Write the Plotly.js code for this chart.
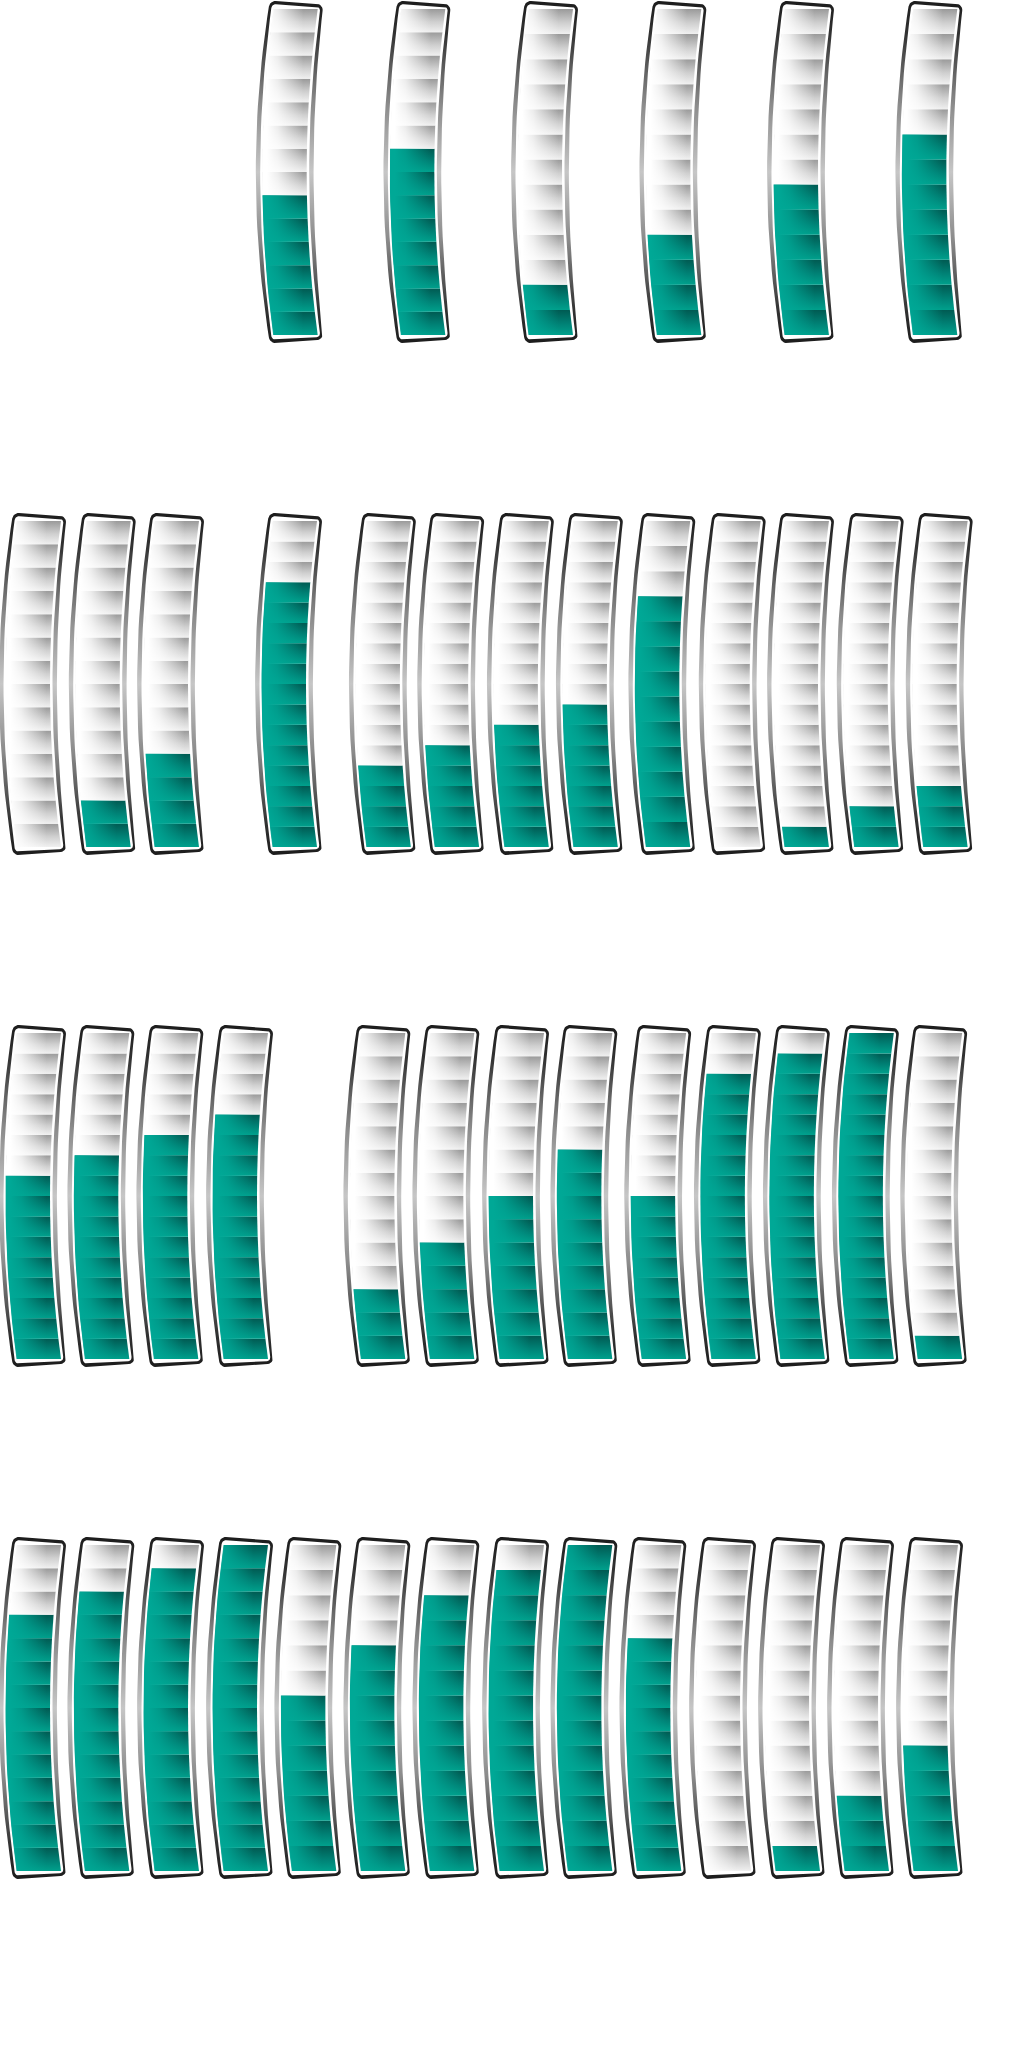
<!DOCTYPE html>
<html><head><meta charset="utf-8">
<script src="https://cdn.plot.ly/plotly-3.0.1.min.js"></script>
<style>html,body{margin:0;padding:0;background:#fff}#chart{width:1024px;height:2048px}</style>
</head><body><div id="chart"></div>
<script>
// ---- data: position slot, number of segments, filled segments ----
const row1Pos = [3.72, 5.57, 7.42, 9.28, 11.13, 12.99];
const row1Segments = [14, 14, 13, 13, 13, 13];
const row1Filled = [6, 8, 2, 4, 6, 8];

const row2Pos = [0, 1.01, 2.0, 3.71, 5.07, 6.06, 7.07, 8.07, 9.12, 10.14, 11.13, 12.14, 13.14];
const row2Segments = [14, 14, 14, 16, 16, 16, 16, 16, 13, 16, 16, 16, 16];
const row2Filled = [0, 2, 4, 13, 4, 5, 6, 7, 10, 0, 1, 2, 3];

const row3Pos = [0, 0.99, 1.99, 3.0, 4.99, 5.99, 7.0, 7.99, 9.06, 10.07, 11.07, 12.07, 13.06];
const row3Segments = [16, 16, 16, 16, 14, 14, 14, 14, 16, 16, 16, 16, 14];
const row3Filled = [9, 10, 11, 12, 3, 5, 7, 9, 8, 14, 15, 16, 1];

const row4Pos = [0, 0.99, 2.0, 3.0, 3.99, 4.99, 5.99, 7.0, 7.99, 8.99, 10.0, 11.0, 12.0, 13.0];
const row4Segments = [14, 14, 14, 14, 13, 13, 13, 13, 13, 14, 13, 13, 13, 13];
const row4Filled = [11, 12, 13, 14, 7, 9, 11, 12, 13, 10, 0, 1, 3, 5];

// ---- style ----
const EMPTY_SCALE = [[0, '#f0f0f0'], [0.45, '#cfcfcf'], [1, '#9a9a9a']];
const FILL_SCALE = [[0, '#00a08c'], [0.45, '#008175'], [1, '#005a52']];
const EMPTY_WASH = [[0, 'rgba(255,255,255,1)'], [0.3, 'rgba(255,255,255,0.8)'], [1, 'rgba(255,255,255,0)']];
const FILL_WASH = [[0, 'rgba(0,168,150,1)'], [0.3, 'rgba(0,168,150,0.8)'], [1, 'rgba(0,168,150,0)']];
const OUTLINE_SCALE = [[0,'#1c1c1c'],[0.1,'#333333'],[0.3,'#8a8a8a'],[0.5,'#c6c6c6'],[0.7,'#8a8a8a'],[0.9,'#333333'],[1,'#1c1c1c']];
const PX_X = 69, PX_Y = 326, HH = 163, BOW = 11, HW_S = 22;
const X_RANGE = [-39 / PX_X, (1024 - 39) / PX_X];
const Y_RANGE = [1 - (512 - 9) / PX_Y, 1 + 9 / PX_Y];

function bow(yl) { const t = yl / HH; return -BOW * (1 - t * t); }
function toData(cx, pts) {
  return { x: pts.map(p => cx + (p[0] + bow(p[1])) / PX_X), y: pts.map(p => 0.5 - p[1] / PX_Y) };
}
function roundedRect(hw, hh, r, widen, fanPx) {
  const pts = [];
  const arc = (cxl, cyl, a0, a1) => { for (let i = 0; i <= 6; i++) { const a = (a0 + (a1 - a0) * i / 6) * Math.PI / 180; pts.push([cxl + r * Math.cos(a), cyl + r * Math.sin(a)]); } };
  const side = (x, y0, y1) => { for (let i = 1; i < 30; i++) pts.push([x, y0 + (y1 - y0) * i / 30]); };
  arc(-hw + r, -hh + r, 180, 270);
  arc(hw - r, -hh + r, 270, 360);
  side(hw, -hh + r, hh - r);
  arc(hw - r, hh - r, 0, 90);
  arc(-hw + r, hh - r, 90, 180);
  side(-hw, hh - r, -hh + r);
  const k = fanPx / (hh * hw);
  return pts.map(([x, y]) => { const s = y / hh; return [x * (1 + widen * (1 - s * s)), y * (1 - k * x)]; });
}
function band(v0, v1, hw) {
  const pts = [], n = Math.max(2, Math.ceil((v1 - v0) * 24));
  const yl = v => -(v - 0.5) * PX_Y;
  for (let i = 0; i <= n; i++) pts.push([-hw, yl(v1 + (v0 - v1) * i / n)]);
  for (let i = 0; i <= n; i++) pts.push([hw, yl(v0 + (v1 - v0) * i / n)]);
  return pts;
}

const traces = [];
function addPoly(cx, pts, xa, ya, extra) {
  const d = toData(cx, pts);
  traces.push(Object.assign({ type: 'scatter', mode: 'lines', x: d.x, y: d.y, xaxis: xa, yaxis: ya,
    fill: 'toself', line: { width: 0 }, hoverinfo: 'skip', showlegend: false }, extra));
}

const rows = [
  { pos: row1Pos, seg: row1Segments, fill: row1Filled },
  { pos: row2Pos, seg: row2Segments, fill: row2Filled },
  { pos: row3Pos, seg: row3Segments, fill: row3Filled },
  { pos: row4Pos, seg: row4Segments, fill: row4Filled }
];

const layout = { width: 1024, height: 2048, margin: { l: 0, r: 0, t: 0, b: 0 },
  paper_bgcolor: '#ffffff', plot_bgcolor: '#ffffff', showlegend: false };

rows.forEach((row, r) => {
  const xa = r === 0 ? 'x' : 'x' + (r + 1);
  const ya = r === 0 ? 'y' : 'y' + (r + 1);
  layout[r === 0 ? 'xaxis' : 'xaxis' + (r + 1)] = { domain: [0, 1], range: X_RANGE, visible: false, fixedrange: true, anchor: ya };
  layout[r === 0 ? 'yaxis' : 'yaxis' + (r + 1)] = { domain: [1 - (r + 1) / 4, 1 - r / 4], range: Y_RANGE, visible: false, fixedrange: true, anchor: xa };
  row.pos.forEach((cx, b) => {
    const N = row.seg[b], F = row.fill[b];
    addPoly(cx, roundedRect(27, HH + 6.5, 6, 0.07, 2), xa, ya,
      { fillgradient: { type: 'vertical', colorscale: OUTLINE_SCALE } });
    addPoly(cx, roundedRect(24.5, HH + 3.5, 4, 0, 1.5), xa, ya, { fillcolor: '#ffffff' });
    for (let k = 0; k < N; k++) {
      addPoly(cx, band(k / N, (k + 1) / N, HW_S), xa, ya,
        { fillgradient: { type: 'vertical', colorscale: k < F ? FILL_SCALE : EMPTY_SCALE } });
    }
    const gStart = cx + (-HW_S - BOW * 0.6) / PX_X, gStop = cx + (HW_S * 0.35) / PX_X;
    if (F < N) addPoly(cx, band(F / N, 1, HW_S + 0.5), xa, ya,
      { fillgradient: { type: 'horizontal', start: gStart, stop: gStop, colorscale: EMPTY_WASH } });
    if (F > 0) addPoly(cx, band(0, F / N, HW_S + 0.5), xa, ya,
      { fillgradient: { type: 'horizontal', start: gStart, stop: gStop, colorscale: FILL_WASH } });
  });
});

Plotly.newPlot('chart', traces, layout, { staticPlot: true, displayModeBar: false });
</script>
</body></html>
